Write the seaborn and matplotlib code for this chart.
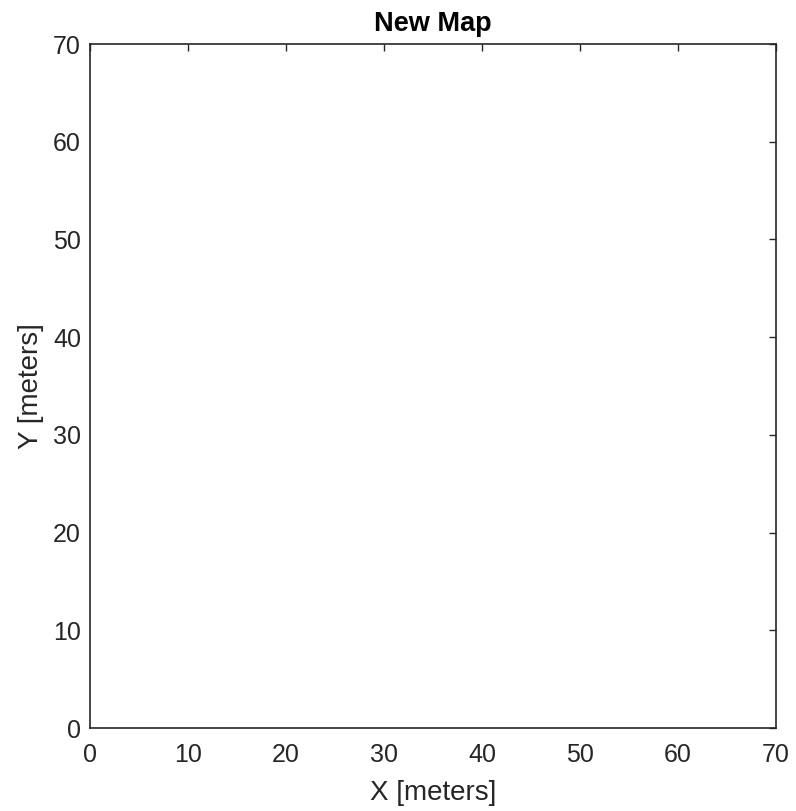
import matplotlib

matplotlib.use("Agg")

import matplotlib.pyplot as plt
import pandas as pd
import seaborn as sns

# map limits and ticks (meters)
X_LIMITS = [0, 70]
Y_LIMITS = [0, 70]
X_TICKS = [0, 10, 20, 30, 40, 50, 60, 70]
Y_TICKS = [0, 10, 20, 30, 40, 50, 60, 70]

# the map has no objects yet
map_x: list[float] = []
map_y: list[float] = []

AXIS_COLOR = "#262626"

sns.set_theme(style="white")
plt.rcParams["font.family"] = ["Liberation Sans", "DejaVu Sans"]

fig = plt.figure(figsize=(7.96, 8.11), dpi=100)
ax = fig.add_axes([0.1131, 0.1023, 0.8618, 0.8434])

df = pd.DataFrame({"x": map_x, "y": map_y}, dtype=float)
sns.scatterplot(data=df, x="x", y="y", ax=ax)

ax.set_xlim(*X_LIMITS)
ax.set_ylim(*Y_LIMITS)
ax.set_xticks(X_TICKS)
ax.set_yticks(Y_TICKS)
ax.tick_params(direction="in", length=5, width=1, colors=AXIS_COLOR,
               labelsize=18, top=True, right=True, labeltop=False, labelright=False)
ax.tick_params(axis="x", pad=11)
ax.tick_params(axis="y", pad=6.5)
for side in ax.spines.values():
    side.set_visible(True)
    side.set_color(AXIS_COLOR)
    side.set_linewidth(1.2)

ax.set_xlabel("X [meters]", fontsize=20, color=AXIS_COLOR, labelpad=9)
ax.set_ylabel("Y [meters]", fontsize=20, color=AXIS_COLOR, labelpad=6.5)
ax.set_title("New Map", fontsize=19.5, fontweight="bold", color="black", pad=9.5)

fig.savefig("out.png", dpi=100)
plt.close(fig)
